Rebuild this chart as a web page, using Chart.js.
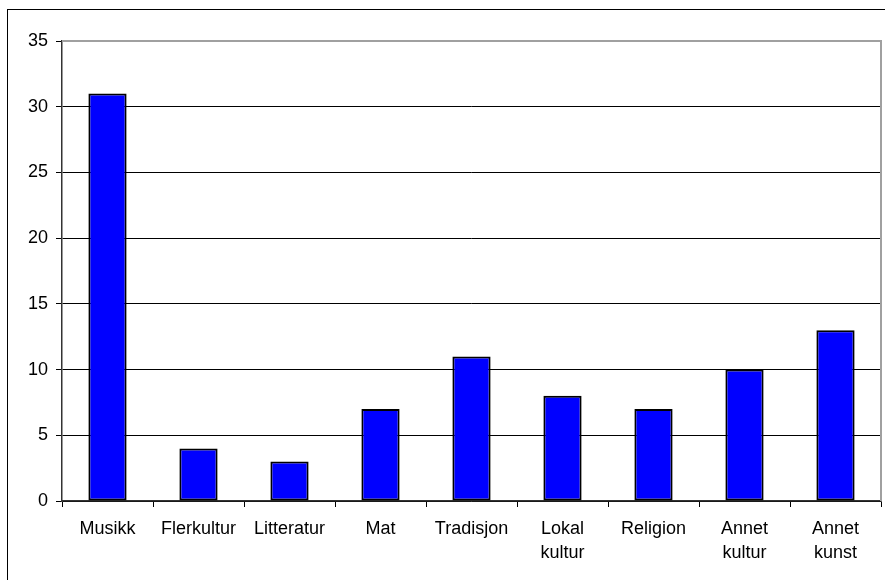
<!DOCTYPE html>
<html>
<head>
<meta charset="utf-8">
<script src="https://cdn.jsdelivr.net/npm/chart.js@4"></script>
<style>
  html, body { margin: 0; padding: 0; background: #fff; overflow: hidden; }
  #wrap { position: relative; width: 885px; height: 580px; }
  #frame {
    position: absolute; left: 7px; top: 9px; width: 890px; height: 590px;
    border: 1.5px solid #000; box-sizing: border-box; pointer-events: none;
  }
</style>
</head>
<body>
<div id="wrap">
  <canvas id="chart" width="885" height="580"></canvas>
  <div id="frame"></div>
</div>
<script>
// Kategorier og antall
const categories = ['Musikk', 'Flerkultur', 'Litteratur', 'Mat', 'Tradisjon',
                    ['Lokal', 'kultur'], 'Religion', ['Annet', 'kultur'], ['Annet', 'kunst']];
const counts = [31, 4, 3, 7, 11, 8, 7, 10, 13];
const yTicks = [0, 5, 10, 15, 20, 25, 30, 35];

// Grå ramme rundt plottområdet (øverst og til høyre)
const plotFrame = {
  id: 'plotFrame',
  afterDraw(chart) {
    const { ctx, chartArea: a } = chart;
    ctx.save();
    ctx.strokeStyle = '#a0a0a0';
    ctx.lineWidth = 2;
    ctx.beginPath();
    ctx.moveTo(a.left, a.top);
    ctx.lineTo(a.right, a.top);
    ctx.lineTo(a.right, a.bottom);
    ctx.stroke();
    ctx.restore();
  },
};

const font = { family: '"Liberation Sans", Arial, sans-serif', size: 18 };

new Chart(document.getElementById('chart'), {
  type: 'bar',
  data: {
    labels: categories,
    datasets: [{
      data: counts,
      backgroundColor: '#0000ff',
      borderColor: '#000',
      borderWidth: 2,
      borderSkipped: false,
      barPercentage: 0.42,
      categoryPercentage: 1,
    }],
  },
  plugins: [plotFrame],
  options: {
    responsive: false,
    animation: false,
    layout: { padding: { left: 0, top: 41, right: 4, bottom: 0 } },
    plugins: {
      legend: { display: false },
      tooltip: { enabled: false },
    },
    scales: {
      x: {
        afterFit(scale) { scale.height = 79; },
        grid: { drawOnChartArea: false, color: '#000', tickLength: 6, offset: true },
        border: { color: '#333', width: 1.5 },
        ticks: {
          color: '#000',
          font: { ...font, lineHeight: 1.28 },
          padding: 11,
          maxRotation: 0,
          autoSkip: false,
        },
      },
      y: {
        min: 0,
        max: 35,
        afterFit(scale) { scale.width = 62; },
        afterBuildTicks(scale) { scale.ticks = yTicks.map((v) => ({ value: v })); },
        grid: {
          color: (c) => (c.tick && c.tick.value === 35 ? '#a0a0a0' : '#000'),
          lineWidth: 1,
          tickLength: 6,
          tickColor: '#000',
        },
        border: { color: '#333', width: 1.5 },
        ticks: { color: '#000', font, padding: 8 },
      },
    },
  },
});
</script>
</body>
</html>
